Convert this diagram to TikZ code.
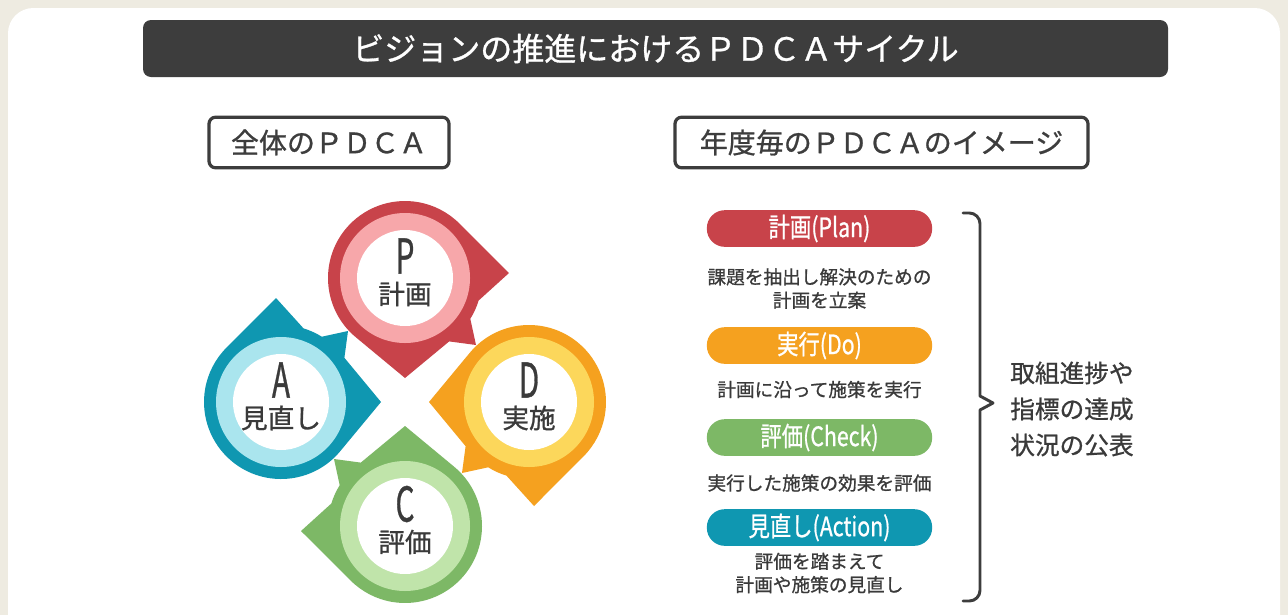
\documentclass[tikz,border=0pt]{standalone}
\usepackage{fontspec}
\usepackage{graphicx}
\setmainfont{Noto Sans CJK JP}
\newfontfamily\midfont{Noto Sans CJK JP}[FakeBold=0.9]
\usetikzlibrary{positioning}
\definecolor{bgbeige}{HTML}{EEEBE1}
\definecolor{bardark}{HTML}{3D3D3D}
\definecolor{txtgray}{HTML}{3A3A3A}
\definecolor{planred}{HTML}{C8434A}
\definecolor{planpink}{HTML}{F7A7AA}
\definecolor{doorange}{HTML}{F5A11F}
\definecolor{doyellow}{HTML}{FCD75B}
\definecolor{chkgreen}{HTML}{7DB866}
\definecolor{chklight}{HTML}{C0E4AA}
\definecolor{actteal}{HTML}{0F97B1}
\definecolor{actlight}{HTML}{AAE5EE}
\tikzset{
    headbox/.style={
        draw=bardark, line width=2.4pt, rounded corners=5pt, fill=white,
        minimum height=38pt, inner sep=0pt, text=bardark,
        font=\midfont\fontsize{21}{26}\selectfont
    },
    pill/.style={
        fill=#1, rounded corners=13.5pt, minimum width=169pt,
        minimum height=27.5pt, inner sep=0pt, text=white,
        font=\midfont\fontsize{20}{22}\selectfont
    },
    desclab/.style={
        font=\midfont\fontsize{14}{17.5}\selectfont, text=txtgray, align=center
    },
    pinltr/.style={
        font=\midfont\fontsize{36}{36}\selectfont, text=txtgray, inner sep=0pt
    },
    pinwrd/.style={
        font=\midfont\fontsize{20}{22}\selectfont, text=txtgray, inner sep=0pt
    }
}

\begin{document}
\begin{tikzpicture}[x=0.75pt,y=0.75pt, line cap=round, line join=round]

\useasboundingbox (0,0) rectangle (1288,-615);
\clip (0,0) rectangle (1288,-615);
\fill[bgbeige] (0,0) rectangle (1288,-615);
\fill[white, rounded corners=19pt] (8,-8) rectangle (1280,-680);

% title bar
\node[fill=bardark, rounded corners=6pt, minimum width=768.75pt,
      minimum height=42.75pt, inner sep=0pt, text=white,
      font=\midfont\fontsize{24}{28}\selectfont] (title) at (655.5,-48.5)
      {ビジョンの推進におけるＰＤＣＡサイクル};

% headings
\node[headbox, minimum width=180pt] (leftHead) at (329,-142.5) {全体のＰＤＣＡ};
\node[headbox, minimum width=309.75pt] (rightHead) at (881.5,-142.5) {年度毎のＰＤＣＡのイメージ};

% cycle: P, D, C, A
\coordinate (O) at (405,-402);
\def\dist{124}
\foreach \ang/\oc/\rc/\ltr/\wrd in {90/planred/planpink/P/計画,
    0/doorange/doyellow/D/実施, -90/chkgreen/chklight/C/評価,
    180/actteal/actlight/A/見直し} {
  \begin{scope}[shift={(O)}, shift={(\ang:\dist)}, rotate=\ang-90]
    \fill[\oc] (0,-100) -- (230.35:77)
      arc[start angle=230.35, end angle=45, radius=77]
      -- (104,5) -- (-17:77) arc[start angle=-17, end angle=-32, radius=77]
      -- (71,-67) -- (44.2,-63.4) -- cycle;
    \fill[\rc] (0,0) circle (65);
    \fill[white] (0,0) circle (48);
  \end{scope}
  \path (O) ++(\ang:\dist) coordinate (c\ltr);
  \node[pinltr] (ltr\ltr) at ([yshift=16.5pt]c\ltr) {\scalebox{0.62}[1]{\ltr}};
  \node[pinwrd] (wrd\ltr) at ([yshift=-12pt]c\ltr) {\wrd};
}

% yearly steps
\node[pill=planred] (plan) at (819.5,-228.5) {\scalebox{0.8}[1]{計画(Plan)}};
\node[desclab] (planTxt) at (819.5,-288.5) {課題を抽出し解決のための\\計画を立案};
\node[pill=doorange] (do) at (819.5,-345.5) {\scalebox{0.8}[1]{実行(Do)}};
\node[desclab] (doTxt) at (819.5,-389.5) {計画に沿って施策を実行};
\node[pill=chkgreen] (check) at (819.5,-437.5) {\scalebox{0.8}[1]{評価(Check)}};
\node[desclab] (checkTxt) at (819.5,-483) {実行した施策の効果を評価};
\node[pill=actteal] (act) at (819.5,-527.5) {\scalebox{0.8}[1]{見直し(Action)}};
\node[desclab] (actTxt) at (819.5,-573) {評価を踏まえて\\計画や施策の見直し};

% brace and summary
\coordinate (braceTip) at (993,-403);
\draw[bardark, line width=2.2pt] (963,-213) [rounded corners=8pt] -- (980,-213)
  -- (980,-300) [sharp corners] -- (980,-396) -- (braceTip) -- (980,-410)
  -- (980,-500) [rounded corners=8pt] -- (980,-601) -- (963,-601);
\node[right=12.75pt of braceTip, yshift=-4.5pt, inner sep=0pt, align=left,
      text=txtgray, font=\midfont\fontsize{18.5}{27}\selectfont] (summary)
      {取組進捗や\\指標の達成\\状況の公表};

\end{tikzpicture}
\end{document}
